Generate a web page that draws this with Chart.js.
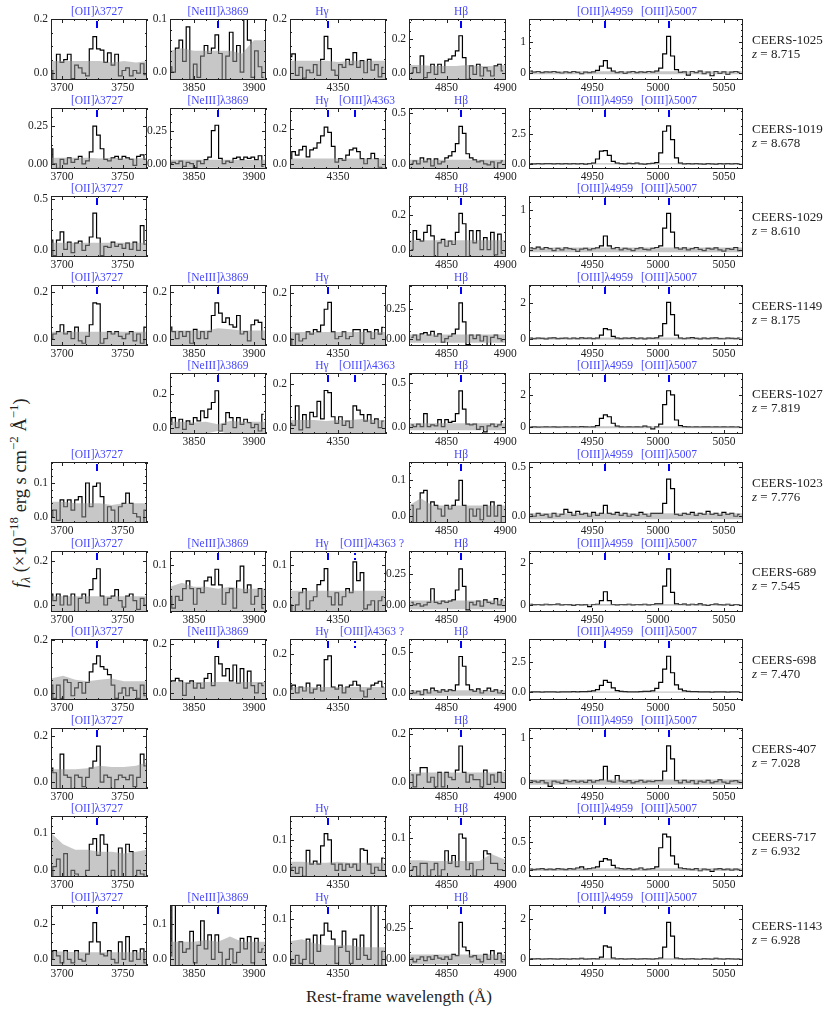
<!DOCTYPE html>
<html>
<head>
<meta charset="utf-8">
<script src="https://cdn.jsdelivr.net/npm/chart.js@4.4.1/dist/chart.umd.min.js"></script>
<style>
  body { margin: 0; background: #fff; }
  #wrap { position: relative; width: 830px; height: 1010px; overflow: hidden; font-family: "Liberation Serif", serif; color: #222; }
  #wrap canvas { position: absolute; }
  .obj { position: absolute; left: 752px; font-size: 13px; line-height: 13.5px; white-space: nowrap; }
  #ylab { position: absolute; left: 20px; top: 493px; transform: translate(-50%, -50%) rotate(-90deg); font-size: 18.5px; white-space: nowrap; }
  #xlab { position: absolute; left: 399px; top: 997px; transform: translate(-50%, -50%); font-size: 17px; white-space: nowrap; }
  sup, sub { font-size: 70%; line-height: 0; }
</style>
</head>
<body>
<div id="wrap">
  <div id="ylab"><i>f</i><sub><i>λ</i></sub> (×10<sup>−18</sup> erg s cm<sup>−2</sup> Å<sup>−1</sup>)</div>
  <div id="xlab">Rest-frame wavelength (Å)</div>
</div>
<script>
// wavelength grids (rest frame, Å)
const waveOII   = [3691,3694,3697,3700,3703,3706,3709,3712,3715,3718,3721,3724,3727,3730,3733,3736,3739,3742,3745,3748,3751,3754,3757,3760,3763,3766,3769];
const waveNeIII = [3830,3833,3836,3839,3842,3845,3848,3851,3854,3857,3860,3863,3866,3869,3872,3875,3878,3881,3884,3887,3890,3893,3896,3899,3902,3905,3908];
const waveHg    = [4310,4313,4316,4319,4322,4325,4328,4331,4334,4337,4340,4343,4346,4349,4352,4355,4358,4361,4364,4367,4370,4373,4376,4379,4382,4385,4388];
const waveHb    = [4820,4823,4826,4829,4832,4835,4838,4841,4844,4847,4850,4853,4856,4859,4862,4865,4868,4871,4874,4877,4880,4883,4886,4889,4892,4895,4898];
const waveOIII  = [4903,4906,4909,4912,4915,4918,4921,4924,4927,4930,4933,4936,4939,4942,4945,4948,4951,4954,4957,4960,4963,4966,4969,4972,4975,4978,4981,4984,4987,4990,4993,4996,4999,5002,5005,5008,5011,5014,5017,5020,5023,5026,5029,5032,5035,5038,5041,5044,5047,5050,5053,5056,5059,5062];
// coarse grids of the 1-sigma band
const bandOII   = [3691,3701,3711,3721,3731,3741,3751,3761,3770];
const bandNeIII = [3830,3840,3850,3860,3870,3880,3890,3900,3910];
const bandHg    = [4310,4320,4330,4340,4350,4360,4370,4380,4390];
const bandHb    = [4818,4828,4838,4848,4858,4868,4878,4888,4901];
const bandOIII  = [4902,4922,4942,4962,4982,5002,5022,5042,5065];

// CEERS-1025
const c1025_oii = [0.01,-0.03,0.07,0.04,0.05,0.07,-0.02,0.03,0.02,0.0,-0.01,0.09,0.135,0.09,0.085,0.04,0.075,0.03,0.07,-0.01,0.01,0.02,-0.01,0.01,0.0,0.035,-0.005];
const c1025_neiii = [0.01,0.0,0.045,0.06,0.02,0.085,-0.015,0.015,-0.01,0.03,0.05,0.035,0.045,0.07,0.035,-0.015,0.03,0.075,0.02,0.05,0.0,0.105,0.06,-0.01,0.04,0.01,-0.01];
const c1025_hg = [0.06,0.07,-0.01,0.02,-0.02,0.01,0.0,0.03,-0.01,0.05,0.135,0.09,0.01,-0.01,0.03,0.02,0.05,0.03,0.075,0.02,0.045,0.0,0.05,0.01,0.03,-0.015,0.02];
const c1025_hb = [0.0,0.03,0.0,0.1,-0.03,0.0,0.05,-0.01,0.05,0.0,0.07,0.08,0.1,0.13,0.22,0.09,-0.04,0.04,-0.01,0.05,-0.02,0.03,0.01,-0.02,0.04,0.05,0.01];
const c1025_oiii = [0.05,0.02,0.04,0.0,0.03,0.02,0.04,0.01,-0.01,0.03,0.0,0.04,0.01,-0.03,0.02,0.0,0.03,0.08,0.22,0.4,0.15,0.05,0.0,0.03,-0.02,0.02,0.04,0.0,0.03,0.01,0.04,0.02,0.05,0.15,0.62,1.2,0.55,0.1,0.01,0.03,-0.08,0.04,0.0,0.05,-0.03,0.02,-0.1,0.04,-0.02,0.03,-0.05,0.02,0.04,0.01];
const c1025_oii_err = [0.045,0.045,0.045,0.045,0.045,0.04,0.045,0.04,0.045];
const c1025_neiii_err = [0.04,0.045,0.04,0.04,0.04,0.04,0.035,0.06,0.06];
const c1025_hg_err = [0.045,0.045,0.045,0.045,0.04,0.045,0.045,0.045,0.045];
const c1025_hb_err = [0.045,0.045,0.04,0.04,0.04,0.045,0.04,0.04,0.045];
const c1025_oiii_err = [0.05,0.05,0.05,0.05,0.05,0.05,0.05,0.05,0.05];
const c1025_ylim = [[-0.025,0.2],[-0.015,0.1],[-0.027,0.2],[-0.044,0.32],[-0.24,1.77]];
const c1025_yticks = [['0.0','0.2'],['0.0','0.1'],['0.0','0.2'],['0.0','0.2'],['0','1']];

// CEERS-1019
const c1019_oii = [0.1,0.0,-0.03,0.03,0.0,0.04,0.01,0.03,0.05,0.0,0.02,0.08,0.25,0.19,0.1,0.03,0.02,0.04,0.05,0.03,0.05,0.04,0.03,-0.01,0.05,0.06,0.03];
const c1019_neiii = [0.0,0.01,0.0,0.02,-0.02,0.01,0.0,-0.03,0.02,0.0,0.03,0.05,0.25,0.29,0.04,0.0,0.02,0.01,0.04,0.05,0.03,0.05,0.04,0.05,0.03,0.06,-0.02];
const c1019_hg = [0.03,0.07,0.05,0.08,0.1,0.04,0.08,0.09,0.12,0.16,0.21,0.18,0.1,0.01,0.03,0.02,0.05,0.08,0.09,0.07,0.03,0.0,0.03,0.06,0.03,-0.02,-0.03];
const c1019_hb = [0.0,0.03,0.0,0.06,0.02,0.05,-0.02,0.05,0.0,0.02,0.06,0.08,0.12,0.2,0.37,0.3,0.1,0.06,0.04,0.02,0.03,0.0,-0.01,0.02,-0.05,0.01,0.03];
const c1019_oiii = [0.02,0.0,0.01,-0.01,0.02,0.01,0.0,0.02,-0.01,0.01,0.0,0.02,0.0,0.01,-0.02,0.01,0.05,0.4,1.05,1.1,0.7,0.2,0.05,0.02,0.0,0.03,0.01,0.06,0.0,-0.02,0.01,0.03,0.1,0.9,2.7,3.15,2.0,0.5,0.05,0.0,0.02,-0.01,0.01,0.0,-0.02,0.01,0.0,-0.03,0.02,0.0,0.01,-0.01,0.02,0.0];
const c1019_oii_err = [0.04,0.04,0.04,0.04,0.035,0.04,0.035,0.035,0.04];
const c1019_neiii_err = [0.03,0.03,0.03,0.03,0.03,0.03,0.03,0.03,0.03];
const c1019_hg_err = [0.03,0.03,0.03,0.03,0.03,0.03,0.03,0.03,0.03];
const c1019_hb_err = [0.04,0.04,0.04,0.04,0.04,0.04,0.04,0.04,0.04];
const c1019_oiii_err = [0.05,0.05,0.05,0.05,0.05,0.05,0.05,0.05,0.05];
const c1019_ylim = [[-0.034,0.37],[-0.04,0.42],[-0.03,0.32],[-0.05,0.55],[-0.43,4.63]];
const c1019_yticks = [['0.00','0.25'],['0.00','0.25'],['0.0','0.2'],['0.0','0.5'],['0.0','2.5']];

// CEERS-1029
const c1029_oii = [0.1,-0.05,0.1,0.18,0.01,0.08,-0.02,0.07,0.09,0.0,0.05,0.13,0.36,0.12,-0.05,0.04,0.03,0.08,0.04,0.06,0.02,0.07,0.01,0.08,0.0,0.24,0.06];
const c1029_hb = [0.0,0.11,0.06,0.05,0.1,0.14,0.08,-0.04,0.04,0.06,0.02,0.05,0.03,0.1,0.21,0.15,-0.05,0.11,0.04,0.11,0.0,0.07,0.0,0.1,-0.03,0.09,-0.02];
const c1029_oiii = [0.05,0.03,0.07,0.02,0.06,0.03,-0.02,0.04,0.0,0.05,0.03,0.01,-0.04,0.02,0.04,0.0,0.03,0.05,0.1,0.35,0.1,0.03,0.06,0.0,0.04,0.02,-0.02,0.03,0.05,0.01,0.0,0.04,0.06,0.1,0.55,0.92,0.45,0.05,0.02,0.05,0.0,0.03,0.06,0.01,-0.02,0.04,0.02,0.05,0.0,-0.03,0.03,0.01,0.06,-0.02];
const c1029_oii_err = [0.075,0.075,0.075,0.075,0.075,0.075,0.075,0.075,0.075];
const c1029_hb_err = [0.055,0.055,0.055,0.055,0.055,0.055,0.055,0.055,0.055];
const c1029_oiii_err = [0.06,0.06,0.06,0.06,0.06,0.06,0.06,0.06,0.06];
const c1029_ylim = [[-0.063,0.525],null,null,[-0.042,0.31],[-0.18,1.36]];
const c1029_yticks = [['0.0','0.5'],null,null,['0.0','0.2'],['0','1']];

// CEERS-1149
const c1149_oii = [0.0,0.02,0.03,0.06,0.02,0.03,0.0,0.05,-0.01,-0.02,0.01,0.06,0.155,0.15,-0.02,0.0,0.03,0.02,0.03,0.01,0.0,0.02,0.03,-0.01,0.02,-0.02,0.05];
const c1149_neiii = [0.05,0.03,0.0,0.03,0.01,0.03,-0.02,0.04,0.0,0.03,0.0,0.03,0.1,0.155,0.11,0.07,0.09,0.06,0.05,0.1,0.02,0.03,-0.01,0.06,0.08,0.07,0.0];
const c1149_hg = [0.0,-0.03,0.02,-0.01,0.0,0.03,0.02,0.04,0.03,0.06,0.13,0.16,0.03,0.0,0.01,0.03,0.0,0.01,0.04,0.04,-0.02,0.04,0.03,0.0,0.04,0.02,0.05];
const c1149_hb = [0.01,0.03,-0.01,0.04,0.05,0.03,0.06,0.02,0.04,-0.03,0.0,0.02,0.04,0.08,0.3,0.14,-0.05,0.03,0.0,0.03,-0.02,0.02,-0.06,0.01,0.03,0.0,-0.02];
const c1149_oiii = [0.02,0.0,0.03,0.01,-0.02,0.02,0.04,0.0,0.01,0.03,-0.01,0.02,0.0,0.04,0.01,0.02,0.0,0.03,0.2,0.56,0.5,0.12,0.03,0.0,0.02,0.01,0.04,0.0,0.02,-0.02,0.03,0.01,0.04,0.15,0.85,2.05,1.35,0.2,0.03,0.0,0.02,0.05,0.01,-0.02,0.03,0.0,0.02,0.04,0.0,-0.01,0.03,0.01,0.0,0.02];
const c1149_oii_err = [0.03,0.03,0.03,0.03,0.03,0.03,0.03,0.03,0.03];
const c1149_neiii_err = [0.035,0.035,0.035,0.035,0.045,0.04,0.035,0.035,0.035];
const c1149_hg_err = [0.03,0.03,0.03,0.03,0.03,0.03,0.03,0.03,0.03];
const c1149_hb_err = [0.035,0.035,0.035,0.035,0.035,0.035,0.035,0.035,0.035];
const c1149_oiii_err = [0.06,0.06,0.06,0.06,0.06,0.06,0.06,0.06,0.06];
const c1149_ylim = [[-0.032,0.232],[-0.032,0.232],[-0.032,0.237],[-0.062,0.45],[-0.42,3.03]];
const c1149_yticks = [['0.0','0.2'],['0.0','0.2'],['0.0','0.2'],['0.00','0.25'],['0','2']];

// CEERS-1027
const c1027_neiii = [0.02,0.06,0.0,0.05,-0.01,0.04,0.02,0.06,0.04,0.1,0.06,0.11,0.15,0.22,-0.02,0.02,0.09,0.06,0.0,0.06,0.02,0.05,0.03,0.0,0.02,-0.02,0.08];
const c1027_hg = [0.02,0.01,0.1,-0.01,0.06,0.0,0.07,0.05,0.12,0.04,0.17,0.16,0.05,0.02,0.05,0.01,0.03,0.0,0.1,0.08,0.06,0.03,0.06,0.02,0.04,0.0,0.03];
const c1027_hb = [0.02,0.0,0.03,0.0,0.15,0.0,0.02,0.01,0.08,0.0,0.08,0.05,0.06,0.15,0.41,0.2,0.03,0.02,0.03,-0.03,0.0,-0.06,0.01,0.03,0.0,0.02,0.06];
const c1027_oiii = [0.02,0.03,0.01,0.02,0.03,0.02,0.03,0.01,0.02,0.03,0.02,0.03,0.02,0.04,0.03,0.02,0.03,0.1,0.55,0.76,0.65,0.25,0.08,0.03,0.02,0.03,0.02,0.03,0.02,0.08,0.02,-0.1,0.03,0.2,1.4,2.25,2.0,0.45,0.1,0.04,0.03,0.02,0.03,0.02,0.03,0.03,0.02,0.03,0.02,0.03,0.02,0.03,0.02,0.03];
const c1027_neiii_err = [0.035,0.035,0.03,0.035,0.02,0.04,0.035,0.035,0.035];
const c1027_hg_err = [0.035,0.035,0.035,0.03,0.035,0.035,0.04,0.035,0.035];
const c1027_hb_err = [0.04,0.04,0.04,0.04,0.04,0.04,0.04,0.04,0.04];
const c1027_oiii_err = [0.06,0.06,0.06,0.06,0.06,0.06,0.06,0.06,0.06];
const c1027_ylim = [null,[-0.038,0.326],[-0.029,0.25],[-0.084,0.615],[-0.41,3.34]];
const c1027_yticks = [null,['0.0','0.2'],['0.0','0.2'],['0.0','0.5'],['0','2']];

// CEERS-1023
const c1023_oii = [0.0,0.02,-0.01,0.05,0.03,0.05,0.02,0.05,0.06,0.0,0.1,0.03,0.09,0.1,0.06,-0.02,0.03,0.02,-0.02,0.03,0.04,0.07,0.04,0.01,0.0,-0.02,0.02];
const c1023_hb = [0.03,-0.02,0.02,0.065,0.072,-0.02,0.04,0.03,0.02,0.0,0.03,0.02,0.03,0.045,0.1,0.03,-0.02,0.02,0.0,0.02,-0.01,0.03,0.0,0.04,0.0,0.03,-0.02];
const c1023_oiii = [0.02,0.0,0.03,0.01,0.02,-0.01,0.03,0.0,0.02,0.07,0.04,0.01,0.05,0.02,0.03,0.0,0.04,0.01,0.03,0.11,0.03,0.02,0.04,0.01,0.03,0.0,0.02,0.01,0.04,0.02,0.0,0.03,0.03,0.03,0.13,0.375,0.28,0.02,0.01,0.03,0.02,0.04,0.01,0.03,0.02,0.05,0.02,0.03,0.01,0.04,0.02,0.03,0.0,0.02];
const c1023_oii_err = [0.045,0.045,0.04,0.04,0.04,0.035,0.04,0.04,0.04];
const c1023_hb_err = [0.03,0.05,0.03,0.03,0.03,0.03,0.03,0.03,0.03];
const c1023_oiii_err = [0.03,0.03,0.03,0.03,0.03,0.03,0.03,0.03,0.03];
const c1023_ylim = [[-0.018,0.162],null,null,[-0.019,0.151],[-0.068,0.548]];
const c1023_yticks = [['0.0','0.1'],null,null,['0.0','0.1'],['0.0','0.5']];

// CEERS-689
const c689_oii = [0.05,0.02,0.05,0.0,0.04,0.0,0.05,-0.03,0.03,0.05,0.01,0.07,0.12,0.165,0.04,0.0,0.03,0.04,0.07,0.02,-0.01,0.04,0.05,0.02,-0.02,0.03,0.0];
const c689_neiii = [0.02,-0.01,0.02,0.01,0.04,0.06,0.04,0.0,0.04,0.03,0.06,0.07,0.05,0.09,0.05,0.0,0.03,0.04,-0.01,0.06,0.098,0.03,0.05,0.0,0.02,0.04,-0.01];
const c689_hg = [0.0,-0.02,0.0,0.03,0.04,-0.01,0.01,0.02,0.05,0.06,0.09,0.02,0.0,0.03,0.0,0.02,0.04,0.03,0.107,0.06,0.08,-0.01,0.0,0.01,-0.02,0.01,0.02];
const c689_hb = [0.02,0.0,0.01,-0.01,0.0,0.02,0.13,0.02,0.01,0.03,0.02,0.03,0.04,0.12,0.29,0.15,-0.04,0.02,0.0,0.03,-0.01,0.04,0.02,0.01,0.05,0.0,0.04];
const c689_oiii = [0.03,0.01,0.02,0.0,0.03,0.01,0.02,0.04,0.0,0.02,0.01,-0.02,0.02,0.0,0.01,-0.08,0.02,0.03,0.2,0.63,0.2,0.02,0.0,0.02,0.01,0.03,0.0,0.02,0.01,0.03,0.0,0.02,0.05,0.05,0.9,1.72,0.6,0.05,0.02,0.04,0.0,0.03,0.01,0.05,0.0,-0.03,0.02,0.04,0.01,0.0,0.03,-0.02,0.02,0.01];
const c689_oii_err = [0.04,0.04,0.04,0.04,0.04,0.04,0.04,0.04,0.04];
const c689_neiii_err = [0.045,0.055,0.045,0.045,0.04,0.045,0.04,0.04,0.04];
const c689_hg_err = [0.035,0.035,0.035,0.035,0.035,0.035,0.035,0.035,0.035];
const c689_hb_err = [0.035,0.035,0.035,0.035,0.035,0.035,0.035,0.035,0.035];
const c689_oiii_err = [0.04,0.04,0.04,0.04,0.04,0.04,0.04,0.04,0.04];
const c689_ylim = [[-0.032,0.246],[-0.02,0.137],[-0.018,0.134],[-0.057,0.434],[-0.34,2.58]];
const c689_yticks = [['0.0','0.2'],['0.0','0.1'],['0.0','0.1'],['0.00','0.25'],['0','2']];

// CEERS-698
const c698_oii = [0.03,-0.02,0.03,-0.02,0.05,0.04,-0.01,0.02,0.04,0.0,0.04,0.08,0.11,0.14,0.1,0.09,0.07,0.03,-0.02,0.0,0.02,-0.01,0.02,0.01,-0.02,0.03,-0.01];
const c698_neiii = [0.05,0.05,0.06,0.05,-0.01,0.04,0.05,0.02,0.04,0.02,0.06,0.08,0.03,0.15,0.12,0.07,0.1,0.05,0.115,0.04,0.1,0.02,0.09,0.03,0.0,0.04,0.03];
const c698_hg = [0.02,0.04,0.0,0.03,0.01,0.05,0.0,0.02,0.04,0.01,0.17,0.19,0.03,0.02,0.04,0.0,0.03,0.04,0.06,0.04,0.01,-0.02,0.02,0.04,0.05,0.06,0.03];
const c698_hb = [0.03,0.0,0.02,-0.02,0.04,0.0,0.06,0.03,0.01,0.04,0.02,0.04,0.03,0.1,0.45,0.33,0.1,0.04,0.02,0.05,0.0,0.03,0.06,0.02,0.04,0.0,0.03];
const c698_oiii = [0.02,0.01,0.02,0.0,0.01,0.02,0.01,0.0,0.02,0.01,0.02,0.03,0.02,0.04,0.03,0.05,0.1,0.2,0.55,0.96,0.8,0.35,0.12,0.06,0.03,0.02,0.01,0.02,0.03,0.05,0.06,0.1,0.3,0.8,1.9,2.97,1.6,0.6,0.25,0.1,0.06,0.04,0.03,0.02,0.01,0.02,0.0,0.01,0.02,0.01,0.0,0.01,0.02,0.01];
const c698_oii_err = [0.055,0.065,0.05,0.045,0.05,0.055,0.045,0.045,0.045];
const c698_neiii_err = [0.045,0.045,0.045,0.045,0.045,0.045,0.045,0.045,0.045];
const c698_hg_err = [0.03,0.03,0.03,0.03,0.03,0.03,0.03,0.03,0.03];
const c698_hb_err = [0.035,0.035,0.035,0.035,0.035,0.035,0.035,0.035,0.035];
const c698_oiii_err = [0.05,0.05,0.05,0.05,0.05,0.05,0.05,0.05,0.05];
const c698_ylim = [[-0.026,0.204],[-0.029,0.222],[-0.036,0.276],[-0.086,0.666],[-0.66,4.4]];
const c698_yticks = [['0.0','0.2'],['0.0','0.2'],['0.0','0.2'],['0.0','0.5'],['0.0','2.5']];

// CEERS-407
const c407_oii = [0.06,0.04,-0.03,0.12,0.03,0.02,-0.03,0.03,0.02,-0.02,0.02,0.06,0.09,0.155,0.0,0.03,0.02,-0.03,0.01,0.03,0.02,0.01,0.03,-0.02,0.02,0.12,0.07];
const c407_hb = [0.03,-0.02,0.03,0.06,0.06,0.0,0.02,-0.02,0.04,-0.02,0.04,0.02,0.01,0.05,0.15,0.04,0.0,0.03,0.01,0.01,-0.02,0.05,-0.01,0.03,0.0,0.04,0.0];
const c407_oiii = [0.03,0.02,0.0,0.03,-0.02,-0.1,0.02,0.0,-0.03,0.04,0.01,0.03,0.0,0.02,-0.01,0.04,0.0,0.03,0.05,0.36,0.02,0.0,0.15,0.02,0.0,0.03,-0.02,0.01,0.04,0.0,0.02,0.01,0.03,0.03,0.25,0.83,0.53,0.03,-0.02,0.04,0.0,0.03,-0.04,0.02,0.0,0.04,-0.02,0.01,0.05,0.0,-0.03,0.02,0.03,0.0];
const c407_oii_err = [0.055,0.055,0.055,0.06,0.07,0.065,0.065,0.07,0.085];
const c407_hb_err = [0.04,0.04,0.04,0.04,0.04,0.04,0.04,0.04,0.04];
const c407_oiii_err = [0.06,0.06,0.06,0.06,0.06,0.06,0.06,0.06,0.06];
const c407_ylim = [[-0.03,0.233],null,null,[-0.029,0.225],[-0.16,1.24]];
const c407_yticks = [['0.0','0.2'],null,null,['0.0','0.2'],['0','1']];

// CEERS-717
const c717_oii = [-0.02,0.01,0.03,-0.02,0.045,-0.02,0.0,-0.01,-0.02,-0.02,0.0,0.07,0.085,0.04,0.095,0.07,-0.02,0.0,-0.02,0.06,-0.02,0.07,0.05,-0.02,0.0,-0.01,-0.02];
const c717_hg = [0.0,0.01,-0.01,0.01,-0.02,0.065,0.02,0.03,0.02,0.08,0.12,0.1,0.02,0.0,0.02,0.0,0.02,0.01,0.02,0.0,0.07,0.065,0.02,-0.01,0.01,0.0,0.04];
const c717_hb = [0.0,0.01,-0.02,0.02,0.02,-0.02,0.0,0.02,-0.02,0.0,0.06,0.02,0.045,0.01,0.113,0.1,0.0,0.02,-0.02,0.0,0.0,0.06,0.05,0.02,0.02,0.0,0.0];
const c717_oiii = [0.01,0.0,0.01,0.02,0.0,0.01,0.0,0.02,0.01,0.0,0.02,0.01,0.03,0.05,0.01,0.02,0.03,0.05,0.15,0.2,0.18,0.08,0.03,0.02,0.01,0.02,0.0,0.01,0.03,0.0,0.01,0.02,0.05,0.4,0.65,0.6,0.25,0.1,0.03,0.02,0.01,0.0,0.02,-0.02,0.01,0.0,-0.03,0.01,0.02,0.0,0.01,-0.01,0.01,0.0];
const c717_oii_err = [0.1,0.07,0.055,0.055,0.05,0.05,0.045,0.05,0.055];
const c717_hg_err = [0.028,0.028,0.025,0.025,0.028,0.025,0.025,0.025,0.025];
const c717_hb_err = [0.03,0.03,0.028,0.028,0.028,0.028,0.028,0.05,0.03];
const c717_oiii_err = [0.025,0.025,0.025,0.025,0.025,0.025,0.025,0.025,0.025];
const c717_ylim = [[-0.018,0.146],null,[-0.022,0.178],[-0.023,0.17],[-0.134,0.98]];
const c717_yticks = [['0.0','0.1'],null,['0.0','0.1'],['0.0','0.1'],['0.0','0.5']];

// CEERS-1143
const c1143_oii = [0.0,0.05,0.02,-0.02,0.05,0.0,-0.02,0.05,0.0,-0.01,0.03,0.1,0.21,0.1,0.03,0.02,0.05,0.0,-0.02,0.1,0.0,0.13,-0.01,0.05,0.0,0.06,-0.02];
const c1143_neiii = [0.01,0.18,-0.02,0.05,0.02,0.03,0.08,-0.01,0.04,0.11,0.03,0.07,0.0,0.07,0.02,-0.02,0.0,0.03,-0.01,0.02,0.06,0.03,0.065,-0.01,0.06,0.02,0.03];
const c1143_hg = [0.0,-0.01,0.01,-0.01,0.0,0.05,-0.01,0.06,0.02,0.06,0.09,0.07,0.05,-0.01,0.03,0.07,0.02,-0.01,0.05,0.0,0.06,0.01,0.0,0.16,0.16,-0.02,0.02];
const c1143_hb = [0.01,-0.02,0.0,0.02,-0.01,0.02,0.0,0.03,0.01,0.0,0.02,0.0,0.04,0.03,0.3,0.1,0.07,0.02,0.03,0.0,-0.02,0.04,0.0,0.07,0.0,0.05,-0.02];
const c1143_oiii = [0.02,0.01,0.02,0.0,0.01,0.02,0.01,0.0,0.02,0.01,0.0,0.02,0.01,0.03,0.0,0.01,0.02,0.01,0.1,0.66,0.6,0.05,0.01,0.02,0.0,0.01,0.02,0.0,0.01,0.02,0.01,0.0,0.02,0.05,0.6,1.85,1.15,0.05,0.02,0.0,0.01,0.02,0.0,-0.01,0.02,0.01,0.0,0.03,0.01,0.0,0.02,0.01,0.0,0.01];
const c1143_oii_err = [0.045,0.045,0.04,0.04,0.04,0.04,0.04,0.04,0.04];
const c1143_neiii_err = [0.05,0.05,0.05,0.055,0.05,0.065,0.05,0.05,0.05];
const c1143_hg_err = [0.045,0.05,0.04,0.035,0.035,0.035,0.03,0.03,0.03];
const c1143_hb_err = [0.04,0.04,0.04,0.04,0.04,0.04,0.04,0.04,0.04];
const c1143_oiii_err = [0.05,0.05,0.05,0.05,0.05,0.05,0.05,0.05,0.05];
const c1143_ylim = [[-0.038,0.31],[-0.019,0.155],[-0.0165,0.135],[-0.054,0.44],[-0.35,2.72]];
const c1143_yticks = [['0.0','0.2'],['0.0','0.1'],['0.0','0.1'],['0.00','0.25'],['0','2']];

// o4363: 0 = no [OIII]4363 label, 1 = label, 2 = tentative (dotted, "?")
const rows = [
  { id: 'CEERS-1025', z: '8.715', o4363: 0, ylim: c1025_ylim, yticks: c1025_yticks,
    flux: [c1025_oii, c1025_neiii, c1025_hg, c1025_hb, c1025_oiii], err: [c1025_oii_err, c1025_neiii_err, c1025_hg_err, c1025_hb_err, c1025_oiii_err] },
  { id: 'CEERS-1019', z: '8.678', o4363: 1, ylim: c1019_ylim, yticks: c1019_yticks,
    flux: [c1019_oii, c1019_neiii, c1019_hg, c1019_hb, c1019_oiii], err: [c1019_oii_err, c1019_neiii_err, c1019_hg_err, c1019_hb_err, c1019_oiii_err] },
  { id: 'CEERS-1029', z: '8.610', o4363: 0, ylim: c1029_ylim, yticks: c1029_yticks,
    flux: [c1029_oii, null, null, c1029_hb, c1029_oiii], err: [c1029_oii_err, null, null, c1029_hb_err, c1029_oiii_err] },
  { id: 'CEERS-1149', z: '8.175', o4363: 0, ylim: c1149_ylim, yticks: c1149_yticks,
    flux: [c1149_oii, c1149_neiii, c1149_hg, c1149_hb, c1149_oiii], err: [c1149_oii_err, c1149_neiii_err, c1149_hg_err, c1149_hb_err, c1149_oiii_err] },
  { id: 'CEERS-1027', z: '7.819', o4363: 1, ylim: c1027_ylim, yticks: c1027_yticks,
    flux: [null, c1027_neiii, c1027_hg, c1027_hb, c1027_oiii], err: [null, c1027_neiii_err, c1027_hg_err, c1027_hb_err, c1027_oiii_err] },
  { id: 'CEERS-1023', z: '7.776', o4363: 0, ylim: c1023_ylim, yticks: c1023_yticks,
    flux: [c1023_oii, null, null, c1023_hb, c1023_oiii], err: [c1023_oii_err, null, null, c1023_hb_err, c1023_oiii_err] },
  { id: 'CEERS-689', z: '7.545', o4363: 2, ylim: c689_ylim, yticks: c689_yticks,
    flux: [c689_oii, c689_neiii, c689_hg, c689_hb, c689_oiii], err: [c689_oii_err, c689_neiii_err, c689_hg_err, c689_hb_err, c689_oiii_err] },
  { id: 'CEERS-698', z: '7.470', o4363: 2, ylim: c698_ylim, yticks: c698_yticks,
    flux: [c698_oii, c698_neiii, c698_hg, c698_hb, c698_oiii], err: [c698_oii_err, c698_neiii_err, c698_hg_err, c698_hb_err, c698_oiii_err] },
  { id: 'CEERS-407', z: '7.028', o4363: 0, ylim: c407_ylim, yticks: c407_yticks,
    flux: [c407_oii, null, null, c407_hb, c407_oiii], err: [c407_oii_err, null, null, c407_hb_err, c407_oiii_err] },
  { id: 'CEERS-717', z: '6.932', o4363: 0, ylim: c717_ylim, yticks: c717_yticks,
    flux: [c717_oii, null, c717_hg, c717_hb, c717_oiii], err: [c717_oii_err, null, c717_hg_err, c717_hb_err, c717_oiii_err] },
  { id: 'CEERS-1143', z: '6.928', o4363: 0, ylim: c1143_ylim, yticks: c1143_yticks,
    flux: [c1143_oii, c1143_neiii, c1143_hg, c1143_hb, c1143_oiii], err: [c1143_oii_err, c1143_neiii_err, c1143_hg_err, c1143_hb_err, c1143_oiii_err] },
];

const WAVES = [waveOII, waveNeIII, waveHg, waveHb, waveOIII];
const BANDS = [bandOII, bandNeIII, bandHg, bandHb, bandOIII];
const X_RANGE = [[3691, 3770], [3830, 3910], [4310, 4390], [4818, 4900.6], [4902, 5064.5]];
const X_MAJOR = [[3700, 3750], [3850, 3900], [4350], [4850, 4900], [4950, 5000, 5050]];
const LINES = [
  [{ w: 3728.5, t: '[OII]λ3727' }],
  [{ w: 3869.9, t: '[NeIII]λ3869' }],
  [{ w: 4341.7, t: 'Hγ', dx: -6 }],
  [{ w: 4862.7, t: 'Hβ' }],
  [{ w: 4959.5, t: '[OIII]λ4959' }, { w: 5008.2, t: '[OIII]λ5007' }],
];
const O4363 = [null, { w: 4364.4, t: '[OIII]λ4363', dx: 12 }, { w: 4364.4, t: '[OIII]λ4363 ?', dx: 17, dotted: true }];

// layout (px)
const COL_X = [51, 170, 290, 409, 529];
const COL_W = [96, 96, 96, 97, 214];
const ROW_Y0 = 19, ROW_DY = 88.6, PANEL_H = 61;
const PAD_L = 44, PAD_R = 26, PAD_T = 18, PAD_B = 20;
const FONT = '"Liberation Serif", "DejaVu Serif", serif';
const INK = '#222';

function minorStep(d) {
  const e = Math.pow(10, Math.floor(Math.log10(d) + 1e-9));
  const m = Math.round(d / e * 100) / 100;
  return d / (m === 1 || m === 5 ? 5 : 4);
}
function minorTicks(lo, hi, step, majors) {
  const out = [];
  for (let k = Math.ceil(lo / step - 1e-6); k * step <= hi + 1e-9; k++) {
    const v = k * step;
    if (!majors.some(m => Math.abs(m - v) < step * 1e-3)) out.push(v);
  }
  return out;
}

const framePlugin = {
  id: 'frame',
  afterDatasetsDraw(chart, args, o) {
    const { ctx, chartArea: a, scales: { x, y } } = chart;
    ctx.save();
    ctx.strokeStyle = INK;
    ctx.lineWidth = 1;
    const seg = (x1, y1, x2, y2) => { ctx.beginPath(); ctx.moveTo(x1, y1); ctx.lineTo(x2, y2); ctx.stroke(); };
    ctx.strokeRect(a.left + 0.5, a.top + 0.5, a.right - a.left - 1, a.bottom - a.top - 1);
    const xt = (v, len) => { const p = Math.round(x.getPixelForValue(v)) + 0.5; seg(p, a.bottom, p, a.bottom - len); seg(p, a.top, p, a.top + len); };
    const yt = (v, len) => { const p = Math.round(y.getPixelForValue(v)) + 0.5; seg(a.left, p, a.left + len, p); seg(a.right, p, a.right - len, p); };
    o.xMajor.forEach(v => xt(v, 4));
    o.xMinor.forEach(v => xt(v, 2));
    o.yMajor.forEach(v => yt(v, 4));
    o.yMinor.forEach(v => yt(v, 2));
    // emission-line markers and names
    ctx.font = '11.5px ' + FONT;
    ctx.textAlign = 'center';
    ctx.textBaseline = 'alphabetic';
    o.lines.forEach(l => {
      const p = Math.round(x.getPixelForValue(l.w));
      ctx.strokeStyle = '#0000ff';
      ctx.lineWidth = 2;
      ctx.setLineDash(l.dotted ? [2, 3] : []);
      seg(p, a.top + 2, p, a.top + 9);
      ctx.setLineDash([]);
      ctx.fillStyle = '#4646ff';
      ctx.fillText(l.t, p + (l.dx || 0), a.top - 4);
    });
    ctx.restore();
  }
};

const wrap = document.getElementById('wrap');

rows.forEach((row, r) => {
  const top = Math.round(ROW_Y0 + ROW_DY * r);
  for (let c = 0; c < 5; c++) {
    const flux = row.flux[c];
    if (!flux) continue;
    const err = row.err[c];
    const [ymin, ymax] = row.ylim[c];
    const yLabels = row.yticks[c];
    const yMajor = yLabels.map(Number);
    const yMinor = minorTicks(ymin, ymax, minorStep(yMajor[1] - yMajor[0]), yMajor);
    const [xmin, xmax] = X_RANGE[c];
    const xMinor = minorTicks(xmin, xmax, 10, X_MAJOR[c]);
    const lines = LINES[c].slice();
    if (c === 2 && O4363[row.o4363]) lines.push(O4363[row.o4363]);

    const W = PAD_L + COL_W[c] + PAD_R, H = PAD_T + PANEL_H + PAD_B;
    const cv = document.createElement('canvas');
    cv.width = W; cv.height = H;
    cv.style.left = (COL_X[c] - PAD_L) + 'px';
    cv.style.top = (top - PAD_T) + 'px';
    cv.style.width = W + 'px';
    cv.style.height = H + 'px';
    wrap.appendChild(cv);

    const wave = WAVES[c], band = BANDS[c];
    new Chart(cv.getContext('2d'), {
      type: 'line',
      data: {
        datasets: [
          { data: band.map((w, i) => ({ x: w, y: -err[i] })), borderWidth: 0, pointRadius: 0, fill: false },
          { data: band.map((w, i) => ({ x: w, y: err[i] })), borderWidth: 0, pointRadius: 0, fill: '-1',
            backgroundColor: 'rgba(150,150,150,0.53)' },
          { data: wave.map((w, i) => ({ x: w, y: flux[i] })), stepped: 'middle', borderColor: '#000',
            borderWidth: 1.2, pointRadius: 0, fill: false }
        ]
      },
      options: {
        responsive: false,
        animation: false,
        events: [],
        layout: { padding: { top: PAD_T, right: PAD_R, left: 0, bottom: 0 } },
        plugins: {
          legend: { display: false },
          tooltip: { enabled: false },
          frame: { xMajor: X_MAJOR[c], xMinor, yMajor, yMinor, lines }
        },
        scales: {
          x: {
            type: 'linear', min: xmin, max: xmax,
            afterBuildTicks: s => { s.ticks = X_MAJOR[c].map(v => ({ value: v })); },
            afterFit: s => { s.height = PAD_B; },
            grid: { display: false, drawTicks: false }, border: { display: false },
            ticks: { autoSkip: false, maxRotation: 0, padding: 1, color: INK,
              font: { family: FONT, size: 11.5 }, callback: v => String(v) }
          },
          y: {
            type: 'linear', min: ymin, max: ymax,
            afterBuildTicks: s => { s.ticks = yMajor.map(v => ({ value: v })); },
            afterFit: s => { s.width = PAD_L; },
            grid: { display: false, drawTicks: false }, border: { display: false },
            ticks: { autoSkip: false, padding: 3, color: INK,
              font: { family: FONT, size: 11.5 }, callback: (v, i) => yLabels[i] }
          }
        }
      },
      plugins: [framePlugin]
    });
  }

  const lab = document.createElement('div');
  lab.className = 'obj';
  lab.style.top = (top + 14) + 'px';
  lab.innerHTML = row.id + '<br><i>z</i> = ' + row.z;
  wrap.appendChild(lab);
});
</script>
</body>
</html>
